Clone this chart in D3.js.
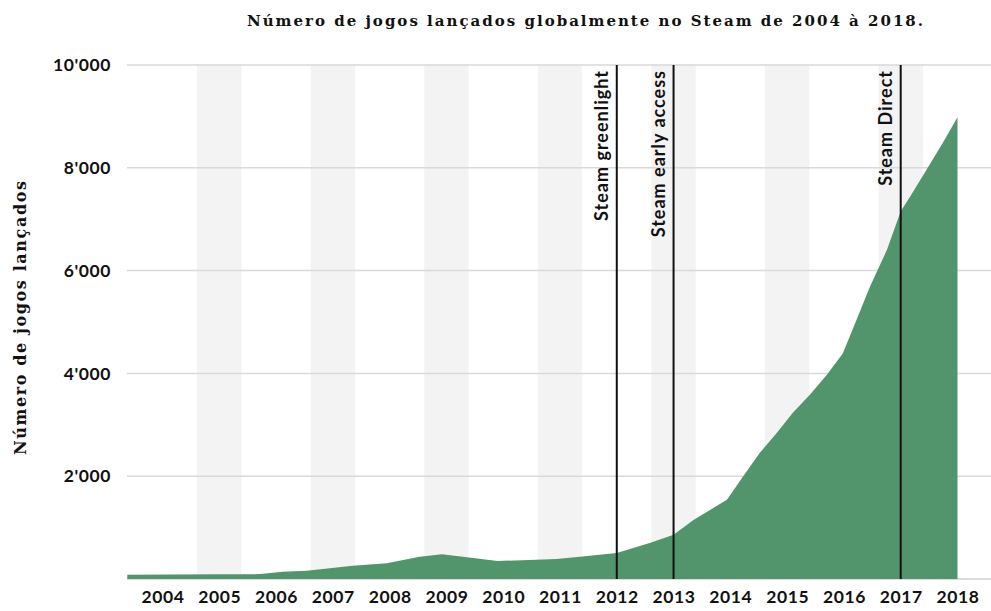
<!DOCTYPE html>
<html>
<head>
<meta charset="utf-8">
<script src="https://cdnjs.cloudflare.com/ajax/libs/d3/7.8.5/d3.min.js"></script>
<style>
  body { margin: 0; background: #fff; }
  .tick-label { font-family: 'Lato', sans-serif; font-weight: 700; font-size: 17.5px; letter-spacing: 0.6px; fill: #111; }
  .event-label { font-family: 'Lato', sans-serif; font-weight: 700; font-size: 18px; letter-spacing: 1px; fill: #111; }
  .serif-title { font-family: 'DejaVu Serif', 'Liberation Serif', serif; font-weight: 700; fill: #111; }
</style>
</head>
<body>
<div id="chart"></div>
<script>
var releaseYear   = [2003.38, 2005.0, 2005.72, 2006.12, 2006.54, 2007.35, 2007.95, 2008.53, 2008.92, 2009.29, 2009.90, 2010.94, 2011.35, 2012.0,
                     2012.58, 2013.0, 2013.35, 2013.94, 2014.22, 2014.52, 2014.82, 2015.10, 2015.40, 2015.70, 2015.98, 2016.16, 2016.46,
                     2016.76, 2017.0, 2017.17, 2017.46, 2017.75, 2018.0];
var gamesReleased = [85, 90, 95, 140, 160, 260, 305, 435, 480, 435, 350, 390, 435, 505,
                     700, 860, 1150, 1540, 1990, 2455, 2845, 3235, 3585, 3975, 4385, 4875, 5690,
                     6410, 7155, 7445, 7970, 8500, 8985];

var yearTicks  = [2004, 2005, 2006, 2007, 2008, 2009, 2010, 2011, 2012, 2013, 2014, 2015, 2016, 2017, 2018];
var valueTicks = [2000, 4000, 6000, 8000, 10000];
var bandYears  = [2005, 2007, 2009, 2011, 2013, 2015, 2017];

var eventNames = ["Steam greenlight", "Steam early access", "Steam Direct"];
var eventYears = [2012, 2013, 2017];

var W = 991, H = 611;
var margin = { top: 65, right: 0, bottom: 32, left: 127 };
var width = W - margin.left - margin.right;
var height = H - margin.top - margin.bottom;

var x = d3.scaleLinear().domain([2003.375, 2018.59]).range([0, width]);
var y = d3.scaleLinear().domain([0, 10000]).range([height, 0]);

var svg = d3.select("#chart").append("svg")
  .attr("width", W).attr("height", H);

var g = svg.append("g")
  .attr("transform", "translate(" + margin.left + "," + margin.top + ")");

// alternating year bands
g.selectAll(".band").data(bandYears).enter()
  .append("rect")
  .attr("class", "band")
  .attr("x", function(d) { return x(d - 0.39); })
  .attr("width", x(0.78) - x(0))
  .attr("y", 0)
  .attr("height", height)
  .attr("fill", "#f3f3f3");

// horizontal grid
g.selectAll(".grid").data(valueTicks).enter()
  .append("line")
  .attr("class", "grid")
  .attr("x1", 0).attr("x2", width)
  .attr("y1", function(d) { return y(d); })
  .attr("y2", function(d) { return y(d); })
  .attr("stroke", "#d9d9d9").attr("stroke-width", 1.5);

g.append("line")
  .attr("x1", 0).attr("x2", width)
  .attr("y1", height).attr("y2", height)
  .attr("stroke", "#cfcfcf").attr("stroke-width", 1.5);

var rows = releaseYear.map(function(d, i) { return { year: d, n: gamesReleased[i] }; });

var area = d3.area()
  .x(function(d) { return x(d.year); })
  .y0(height)
  .y1(function(d) { return y(d.n); });

g.append("path")
  .datum(rows)
  .attr("d", area)
  .attr("fill", "#52946b");

// event markers
var ev = g.selectAll(".event").data(eventYears).enter()
  .append("g").attr("class", "event");

ev.append("line")
  .attr("x1", function(d) { return x(d); })
  .attr("x2", function(d) { return x(d); })
  .attr("y1", 0).attr("y2", height)
  .attr("stroke", "#111").attr("stroke-width", 2);

ev.append("text")
  .attr("class", "event-label")
  .attr("transform", function(d) { return "translate(" + (x(d) - 9) + ",5) rotate(-90)"; })
  .attr("text-anchor", "end")
  .text(function(d, i) { return eventNames[i]; });

// axes
var fmt = function(d) { return d3.format(",")(d).replace(/,/g, "'"); };

var yAxis = d3.axisLeft(y).tickValues(valueTicks).tickSize(0).tickPadding(16).tickFormat(fmt);
var yg = g.append("g").call(yAxis);
yg.select(".domain").remove();
yg.selectAll("text").attr("class", "tick-label").attr("font-size", null).attr("font-family", null);

var xAxis = d3.axisBottom(x).tickValues(yearTicks).tickSize(0).tickPadding(12).tickFormat(d3.format("d"));
var xg = g.append("g").attr("transform", "translate(0," + height + ")").call(xAxis);
xg.select(".domain").remove();
xg.selectAll("text").attr("class", "tick-label").attr("font-size", null).attr("font-family", null);

// titles
svg.append("text")
  .attr("class", "serif-title")
  .attr("x", 585).attr("y", 26)
  .attr("text-anchor", "middle")
  .attr("font-size", 15)
  .attr("textLength", 676).attr("lengthAdjust", "spacing")
  .text("Número de jogos lançados globalmente no Steam de 2004 à 2018.");

svg.append("text")
  .attr("class", "serif-title")
  .attr("transform", "translate(26,318) rotate(-90)")
  .attr("text-anchor", "middle")
  .attr("font-size", 16)
  .attr("textLength", 274).attr("lengthAdjust", "spacing")
  .text("Número de jogos lançados");
</script>
</body>
</html>
